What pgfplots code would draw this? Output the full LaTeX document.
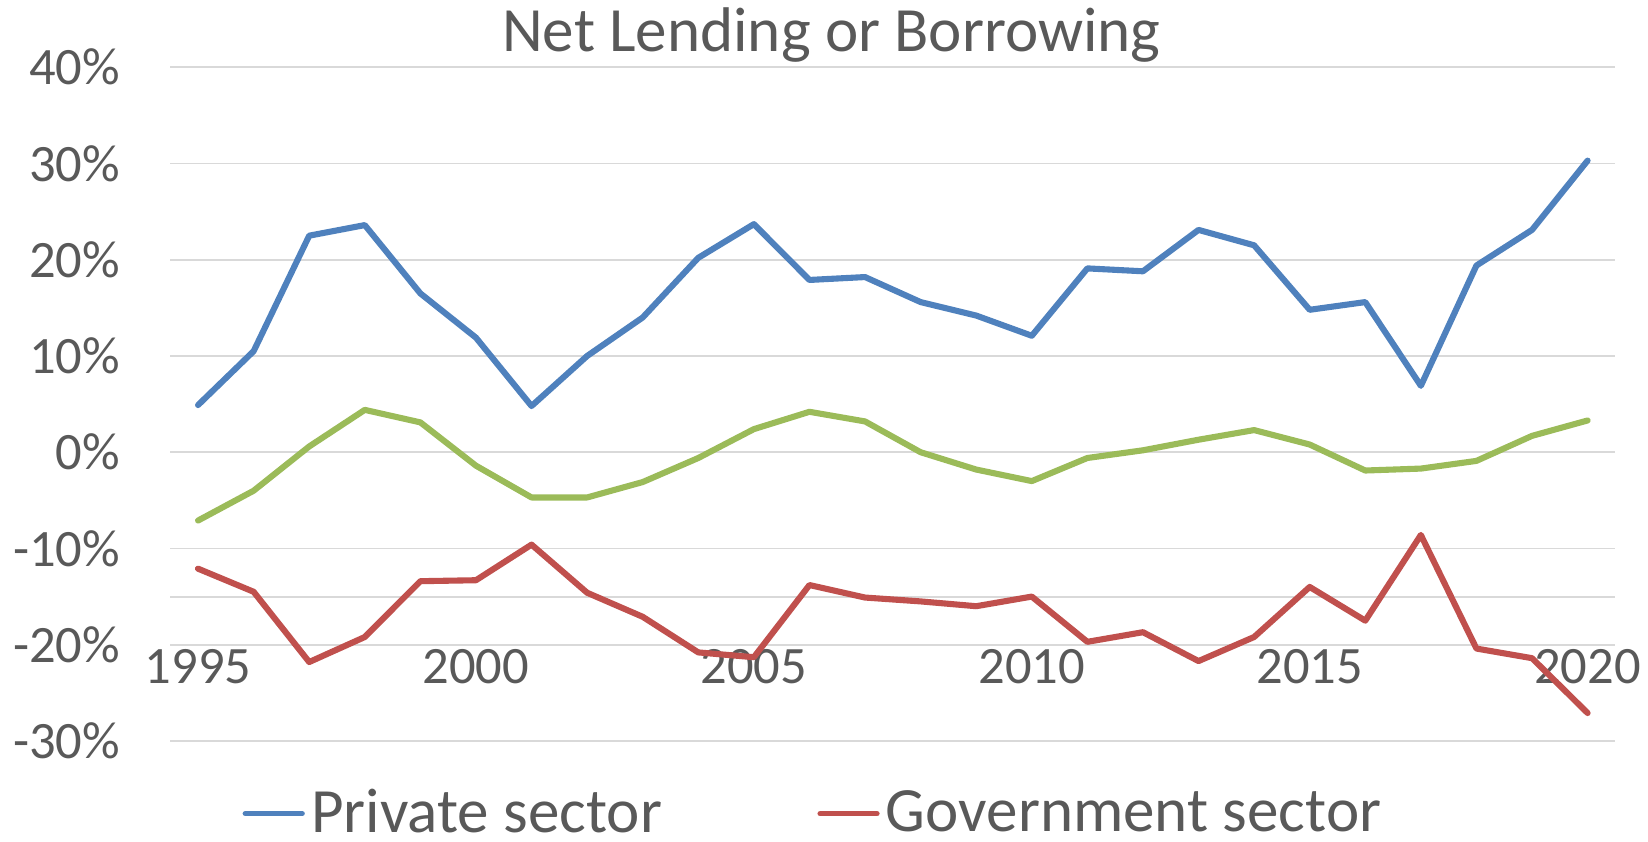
\documentclass[border=0pt]{standalone}
\usepackage{fontspec}
\setmainfont{Carlito}
\usepackage{pgfplots}
\pgfplotsset{compat=1.18}
\definecolor{textgray}{HTML}{595959}
\definecolor{gridgray}{HTML}{D9D9D9}
\definecolor{cblue}{HTML}{4F81BD}
\definecolor{cred}{HTML}{C0504D}
\definecolor{cgreen}{HTML}{9BBB59}

\pgfplotstableread{
year private government other
1995  4.9  -12.1  -7.1
1996 10.5  -14.5  -4.0
1997 22.5  -21.8   0.6
1998 23.6  -19.2   4.4
1999 16.5  -13.4   3.1
2000 11.9  -13.3  -1.4
2001  4.8   -9.6  -4.7
2002 10.0  -14.6  -4.7
2003 14.0  -17.1  -3.1
2004 20.2  -20.8  -0.6
2005 23.7  -21.3   2.4
2006 17.9  -13.8   4.2
2007 18.2  -15.1   3.2
2008 15.6  -15.5   0.0
2009 14.2  -16.0  -1.8
2010 12.1  -15.0  -3.0
2011 19.1  -19.7  -0.6
2012 18.8  -18.7   0.2
2013 23.1  -21.7   1.3
2014 21.5  -19.2   2.3
2015 14.8  -14.0   0.8
2016 15.6  -17.5  -1.9
2017  6.9   -8.6  -1.7
2018 19.4  -20.4  -0.9
2019 23.1  -21.4   1.7
2020 30.3  -27.1   3.3
}\datatable

\begin{document}
\begin{tikzpicture}
\useasboundingbox (-40.5pt,-24pt) rectangle (351.5pt,176.25pt);
\begin{axis}[
  at={(0pt,0pt)}, anchor=south west,
  scale only axis, width=343.75pt, height=160.25pt,
  xmin=1994.5, xmax=2020.5, ymin=-30, ymax=40,
  axis line style={draw=none},
  major tick length=0pt,
  xtick={1995,2000,2005,2010,2015,2020},
  xticklabels={1995,2000,2005,2010,2015,2020},
  ytick={-30,-20,-10,0,10,20,30,40},
  yticklabels={-30\%,-20\%,-10\%,0\%,10\%,20\%,30\%,40\%},
  extra y ticks={-15}, extra y tick labels={},
  extra y tick style={grid=major},
  ymajorgrids,
  major grid style={draw=gridgray, line width=0.45pt},
  ticklabel style={font=\fontsize{12.5}{12.5}\selectfont, text=textgray, inner sep=0pt},
  yticklabel style={anchor=east, xshift=-11.75pt},
  xticklabel style={anchor=base, yshift=13.75pt},
  clip=false,
  legend columns=2,
  legend image code/.code={\draw[#1, line width=1.3pt, line cap=round] (0pt,0pt) -- (13.5pt,0pt);},
  legend style={draw=none, fill=none, inner sep=0pt, at={(0.0495,-0.108)}, anchor=west,
    nodes={inner sep=0pt, text=textgray, font=\fontsize{15}{15}\selectfont},
    /tikz/every odd column/.append style={column sep=1.5pt},
    /tikz/every even column/.append style={column sep=37pt}},
]
\addplot[cblue, line width=1.45pt, line cap=round, line join=round] table[x=year, y=private] {\datatable};
\addplot[cred, line width=1.45pt, line cap=round, line join=round] table[x=year, y=government] {\datatable};
\addplot[cgreen, line width=1.45pt, line cap=round, line join=round] table[x=year, y=other] {\datatable};
\legend{Private sector, Government sector}
\end{axis}
\node[anchor=base, text=textgray, font=\fontsize{15}{15}\selectfont] at (157.25pt,163.95pt) {Net Lending or Borrowing};
\end{tikzpicture}
\end{document}
